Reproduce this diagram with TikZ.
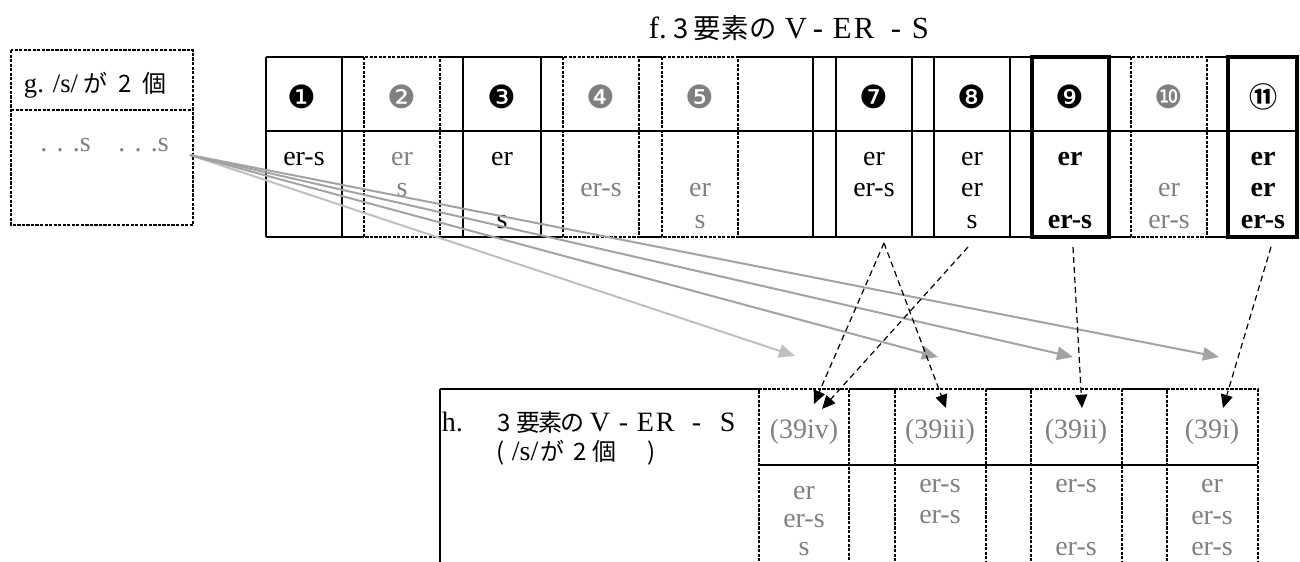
\documentclass[tikz,border=0pt]{standalone}
\usepackage{fontspec}
\setmainfont{Liberation Serif}
\newfontfamily\jp{Noto Sans CJK JP}
\newfontfamily\dv{DejaVu Sans}
\usetikzlibrary{arrows.meta}
\definecolor{tg}{RGB}{128,128,128}
\definecolor{ag}{RGB}{163,163,163}
\definecolor{lg}{RGB}{192,192,192}
\newcommand\pc[2]{\rlap{\hspace{\dimexpr 0.75pt*#1\relax}#2}}
\newcommand\J[2]{{\jp\fontsize{#1}{#1}\selectfont #2}}
\begin{document}
\begin{tikzpicture}[x=0.75pt,y=-0.75pt,
  solidln/.style={line width=1.1pt},
  dashln/.style={line width=1.1pt, dash pattern=on 2.4pt off 1pt},
  thickfr/.style={line width=3.4pt},
  bk/.style={font=\fontsize{21}{24}\selectfont, inner sep=0pt, anchor=base},
  gy/.style={bk, text=tg},
  bd/.style={bk, font=\fontsize{21}{24}\selectfont\bfseries},
  num/.style={font=\dv\fontsize{24}{26}\selectfont, inner sep=0pt},
  lbl/.style={font=\fontsize{20}{24}\selectfont, inner sep=0pt, anchor=base west},
  grayarrow/.style={ag, line width=1.5pt, -{Triangle[length=12pt,width=10pt]}},
  dasharrow/.style={black, line width=0.9pt, dash pattern=on 4.5pt off 3pt, -{Triangle[length=10pt,width=9pt]}}
]
\useasboundingbox (0,0) rectangle (1300,561);
\clip (0,0) rectangle (1300,561);

% ---------- left box g ----------
\draw[dashln] (11,50) rectangle (193,225);
\draw[dashln] (11,110) -- (193,110);
\node[lbl] (glabel) at (23,92) {\pc{0}{g.}\pc{29}{/s/}\pc{60}{\J{18}{が}}\pc{95}{\J{18}{2}}\pc{119}{\J{18}{個}}};
\node[gy, anchor=base west] (gs1) at (40,151) {. . .s};
\node[gy, anchor=base west] (gs2) at (118,151) {. . .s};

% ---------- top title ----------
\node[lbl, font=\fontsize{23}{26}\selectfont] (ftitle) at (648,38) {\pc{0}{f.}\pc{25}{\J{20.5}{3}}\pc{45}{\J{20.5}{要}}\pc{73}{\J{20.5}{素}}\pc{101}{\J{20.5}{の}}\pc{136}{V}\pc{164}{-}\pc{184}{E}\pc{205}{R}\pc{242}{-}\pc{263}{S}};

% ---------- top table ----------
\foreach \a/\b in {266/364, 440/563, 639/662, 738/1131, 1207/1297} {
  \draw[solidln] (\a,57) -- (\b,57);
  \draw[solidln] (\a,237) -- (\b,237);
}
\draw[solidln] (266,131) -- (1297,131);
\foreach \x in {266,342,463,541,813,836,912,934,1010} \draw[solidln] (\x,57) -- (\x,237);
\foreach \a/\b in {364/440, 563/639, 662/738, 1131/1207} \draw[dashln] (\a,57) rectangle (\b,237);
\draw[thickfr] (1032,57) rectangle (1109,237);
\draw[thickfr] (1228,57) rectangle (1297,237);

% header numbers
\node[num] (n1) at (302,97) {❶};
\node[num, text=tg] (n2) at (402,97) {❷};
\node[num] (n3) at (502,97) {❸};
\node[num, text=tg] (n4) at (601,97) {❹};
\node[num, text=tg] (n5) at (700,97) {❺};
\node[num] (n7) at (874,97) {❼};
\node[num] (n8) at (972,97) {❽};
\node[num] (n9) at (1070,97) {❾};
\node[num, text=tg] (n10) at (1169,97) {❿};
\node[num, font=\jp\bfseries\fontsize{21}{24}\selectfont] (n11) at (1263,97) {⑪};

% body of top table (baselines 165 / 196 / 228)
\node[bk] (c1a) at (304,165) {er-s};
\node[gy] (c2a) at (402,165) {er};
\node[gy] (c2b) at (402,196) {s};
\node[bk] (c3a) at (502,165) {er};
\node[bk] (c3c) at (502,228) {s};
\node[gy] (c4b) at (601,196) {er-s};
\node[gy] (c5b) at (700,196) {er};
\node[gy] (c5c) at (700,228) {s};
\node[bk] (c7a) at (874,165) {er};
\node[bk] (c7b) at (874,196) {er-s};
\node[bk] (c8a) at (972,165) {er};
\node[bk] (c8b) at (972,196) {er};
\node[bk] (c8c) at (972,228) {s};
\node[bd] (c9a) at (1070,165) {er};
\node[bd] (c9c) at (1070,228) {er-s};
\node[gy] (c10b) at (1169,196) {er};
\node[gy] (c10c) at (1169,228) {er-s};
\node[bd] (c11a) at (1263,165) {er};
\node[bd] (c11b) at (1263,196) {er};
\node[bd] (c11c) at (1263,228) {er-s};

% ---------- bottom table ----------
\draw[solidln] (440,389) -- (440,575);
\foreach \a/\b in {440/759, 849/895, 986/1031, 1122/1167} \draw[solidln] (\a,389) -- (\b,389);
\draw[solidln] (759,465) -- (1258,465);
\foreach \a/\b in {759/849, 895/986, 1031/1122, 1167/1258} \draw[dashln] (\a,575) -- (\a,389) -- (\b,389) -- (\b,575);

\node[lbl, font=\fontsize{21}{24}\selectfont] (hl1) at (441,431) {\pc{0}{h.}\pc{56}{\J{18}{3}}\pc{75}{\J{18}{要}}\pc{97}{\J{18}{素}}\pc{119}{\J{18}{の}}\pc{148}{V}\pc{177}{-}\pc{195}{E}\pc{214}{R}\pc{250}{-}\pc{278}{S}};
\node[lbl, font=\fontsize{21}{24}\selectfont] (hl2) at (441,460) {\pc{55}{\J{18}{(}}\pc{70}{/s/}\pc{99}{\J{18}{が}}\pc{132}{\J{18}{2}}\pc{151}{\J{18}{個}}\pc{206}{\J{18}{)}}};

\node[gy] (h4) at (804,438) {(39iv)};
\node[gy] (h3) at (940,438) {(39iii)};
\node[gy] (h2) at (1076,438) {(39ii)};
\node[gy] (h1) at (1212,438) {(39i)};

\node[gy] (d4a) at (804,499) {er};
\node[gy] (d4b) at (804,527) {er-s};
\node[gy] (d4c) at (804,555) {s};
\node[gy] (d3a) at (940,492) {er-s};
\node[gy] (d3b) at (940,523) {er-s};
\node[gy] (d2a) at (1076,492) {er-s};
\node[gy] (d2c) at (1076,555) {er-s};
\node[gy] (d1a) at (1212,492) {er};
\node[gy] (d1b) at (1212,524) {er-s};
\node[gy] (d1c) at (1212,555) {er-s};

% ---------- connectors ----------
\coordinate (gout) at (190,155);
\coordinate (ta4) at (795,356);
\coordinate (ta3) at (938,357);
\coordinate (ta2) at (1073,357);
\coordinate (ta1) at (1219,357);
\draw[grayarrow, lg] (gout) -- (ta4);
\draw[grayarrow] (gout) -- (ta3);
\draw[grayarrow] (gout) -- (ta2);
\draw[grayarrow] (gout) -- (ta1);

\coordinate (apex) at (884,243);
\coordinate (s8) at (968,247);
\coordinate (s9) at (1073,247);
\coordinate (s11) at (1271,247);
\coordinate (e4a) at (814,404);
\coordinate (e4b) at (822,409);
\coordinate (e3) at (946,408);
\coordinate (e2) at (1082,408);
\coordinate (e1) at (1223,408);
\draw[dasharrow] (apex) -- (e4a);
\draw[dasharrow] (s8) -- (e4b);
\draw[dasharrow] (apex) -- (e3);
\draw[dasharrow] (s9) -- (e2);
\draw[dasharrow] (s11) -- (e1);
\end{tikzpicture}
\end{document}
